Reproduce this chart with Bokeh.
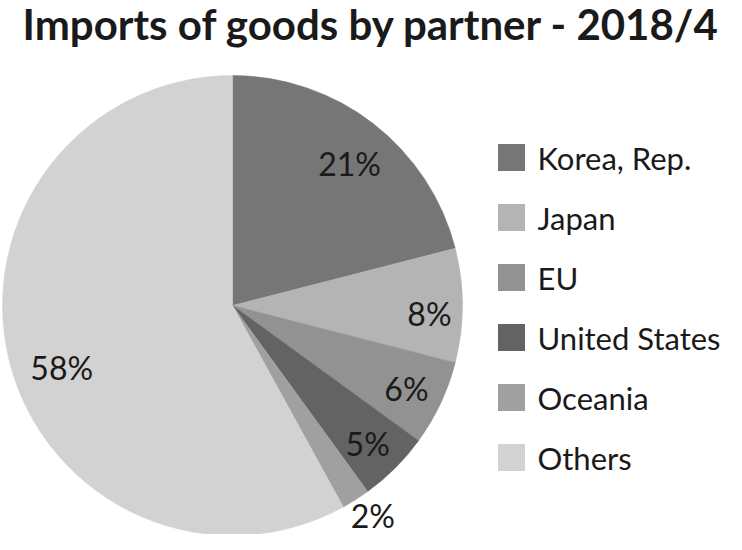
import numpy as np
from bokeh.plotting import figure
from bokeh.models import ColumnDataSource, Range1d
from bokeh.core.properties import value
from bokeh.embed import file_html
from bokeh.resources import INLINE

# ---- data ----
title = "Imports of goods by partner - 2018/4"
partners = ["Korea, Rep.", "Japan", "EU", "United States", "Oceania", "Others"]
shares = [21, 8, 6, 5, 2, 58]
colors = ["#767676", "#b4b4b4", "#929292", "#636363", "#a0a0a0", "#d2d2d2"]

# ---- style / layout ----
FONT = "Lato"
W, H = 726, 534
CX, CY, R = 232, 245, 230          # pie centre/radius (y measured upward from 550)
label_r = [0.80, 0.857, 0.838, 0.84, 1.10, 0.79]     # label distance as fraction of R
label_nudge_deg = [1.7, 2.3, 0.3, 0.6, -1.3, -5.6]   # clockwise nudge of label angle

p = figure(width=W, height=H, x_range=Range1d(0, W), y_range=Range1d(550 - H, 550),
           output_backend="svg", toolbar_location=None, min_border=0,
           x_axis_type=None, y_axis_type=None)
p.grid.visible = False
p.outline_line_color = None
p.background_fill_color = "white"
p.border_fill_color = "white"

frac = np.array(shares, dtype=float) / sum(shares)
cum = np.concatenate([[0], np.cumsum(frac)])
start = np.pi / 2 - 2 * np.pi * cum[:-1]
end = np.pi / 2 - 2 * np.pi * cum[1:]
mid = (start + end) / 2 - np.radians(label_nudge_deg)

src = ColumnDataSource(dict(start=start, end=end, color=colors, partner=partners))
p.wedge(x=CX, y=CY, radius=R, start_angle="start", end_angle="end", direction="clock",
        fill_color="color", line_color="color", line_width=0.5, source=src)

# percentage labels
lx = CX + np.array(label_r) * R * np.cos(mid)
ly = CY + np.array(label_r) * R * np.sin(mid)
lab = ColumnDataSource(dict(x=lx, y=ly, t=[f"{s}%" for s in shares]))
p.text(x="x", y="y", text="t", source=lab, text_align="center", text_baseline="middle",
       text_font=value(FONT), text_font_size="32px", text_color="#1a1a1a")

# legend (manual)
n = len(partners)
leg_y = 550 - (157 + 60 * np.arange(n))
legsrc = ColumnDataSource(dict(x=[511] * n, y=leg_y, color=colors, t=partners, tx=[537] * n))
p.rect(x="x", y="y", width=27, height=27, fill_color="color", line_color=None, source=legsrc)
p.text(x="tx", y="y", text="t", source=legsrc, text_align="left", text_baseline="middle",
       text_font=value(FONT), text_font_size="31px", text_color="#1a1a1a")

# title
p.text(x=[371], y=[550 - 23], text=[title], text_align="center", text_baseline="alphabetic",
       text_font=value(FONT), text_font_style="bold", text_font_size="42px", text_color="#1a1a1a")

open("out.html", "w").write(file_html(p, INLINE))
